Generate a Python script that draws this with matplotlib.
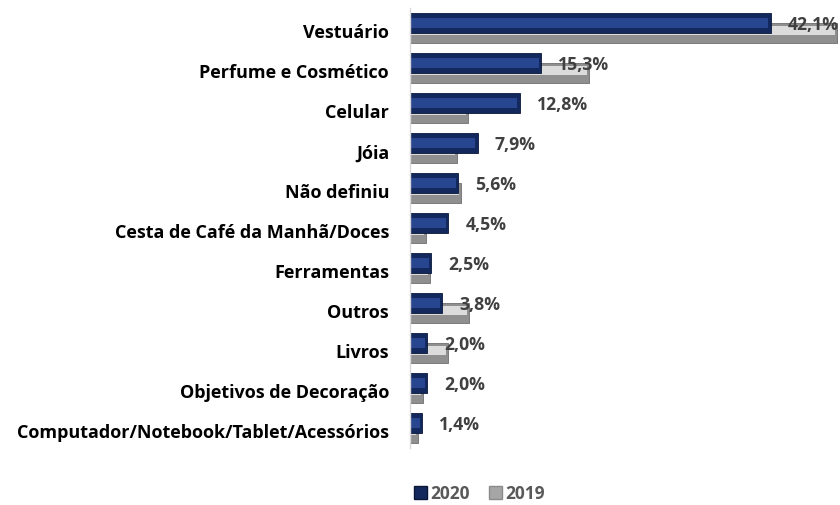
import numpy as np
import matplotlib.pyplot as plt
from matplotlib.patches import Patch

plt.rcParams['font.family'] = ['Open Sans', 'DejaVu Sans']

categorias = ['Vestuário', 'Perfume e Cosmético', 'Celular', 'Jóia', 'Não definiu',
              'Cesta de Café da Manhã/Doces', 'Ferramentas', 'Outros', 'Livros',
              'Objetivos de Decoração', 'Computador/Notebook/Tablet/Acessórios']
v2020 = [42.1, 15.3, 12.8, 7.9, 5.6, 4.5, 2.5, 3.8, 2.0, 2.0, 1.4]
v2019 = [49.9, 20.9, 6.8, 5.5, 6.0, 1.9, 2.4, 6.9, 4.5, 1.5, 1.0]
rotulos = ['42,1%', '15,3%', '12,8%', '7,9%', '5,6%', '4,5%', '2,5%', '3,8%', '2,0%', '2,0%', '1,4%']

y = np.arange(len(categorias))
a2020 = np.array(v2020)
a2019 = np.array(v2019)

fig = plt.figure(figsize=(8.4, 5.05), dpi=100)
ax = fig.add_axes([0.488, 0.113, 0.512, 0.871])

h = 0.48
off = 0.125
ins = 0.35
# 2019 (atrás)
ax.barh(y + off, a2019, height=h, color='#8f8f8f', edgecolor='#6e6e6e', linewidth=0.6, zorder=1)
ax.barh(y + off - 0.06, np.maximum(a2019 - ins, 0), height=h * 0.45, left=0.1,
        color='#dcdcdc', linewidth=0, zorder=1.5)
# 2020 (frente)
ax.barh(y - off, a2020, height=h, color='#13285c', edgecolor='#0b1738', linewidth=0.6, zorder=2)
ax.barh(y - off, np.maximum(a2020 - ins, 0), height=h * 0.5, left=0.1,
        color='#27468f', linewidth=0, zorder=2.5)

for yi, v, t in zip(y, a2020, rotulos):
    ax.text(v + 2.0, yi - off + 0.05, t, va='center', ha='left', fontsize=12.7,
            fontweight='bold', color='#404040', zorder=3, clip_on=False)

ax.set_ylim(len(categorias) - 0.5, -0.5)
ax.set_xlim(0, 50.2)
ax.set_yticks(y + 0.08)
ax.set_yticklabels(categorias, fontsize=13, fontweight='bold', color='#000000')
ax.tick_params(axis='y', length=0, pad=15)
ax.set_xticks([])
for s in ['top', 'right', 'bottom']:
    ax.spines[s].set_visible(False)
ax.spines['left'].set_color('#d9d9d9')
ax.spines['left'].set_linewidth(1)

handles = [Patch(facecolor='#13285c', edgecolor='#0b1738'),
           Patch(facecolor='#a6a6a6', edgecolor='#8a8a8a')]
leg = fig.legend(handles, ['2020', '2019'], loc='center', bbox_to_anchor=(0.571, 0.022),
                 ncol=2, frameon=False, fontsize=12.5, handlelength=0.75, handleheight=0.75,
                 handletextpad=0.2, columnspacing=1.1, borderpad=0.1)
for t in leg.get_texts():
    t.set_color('#595959')
    t.set_fontweight('bold')

fig.savefig('out.png', dpi=100)
